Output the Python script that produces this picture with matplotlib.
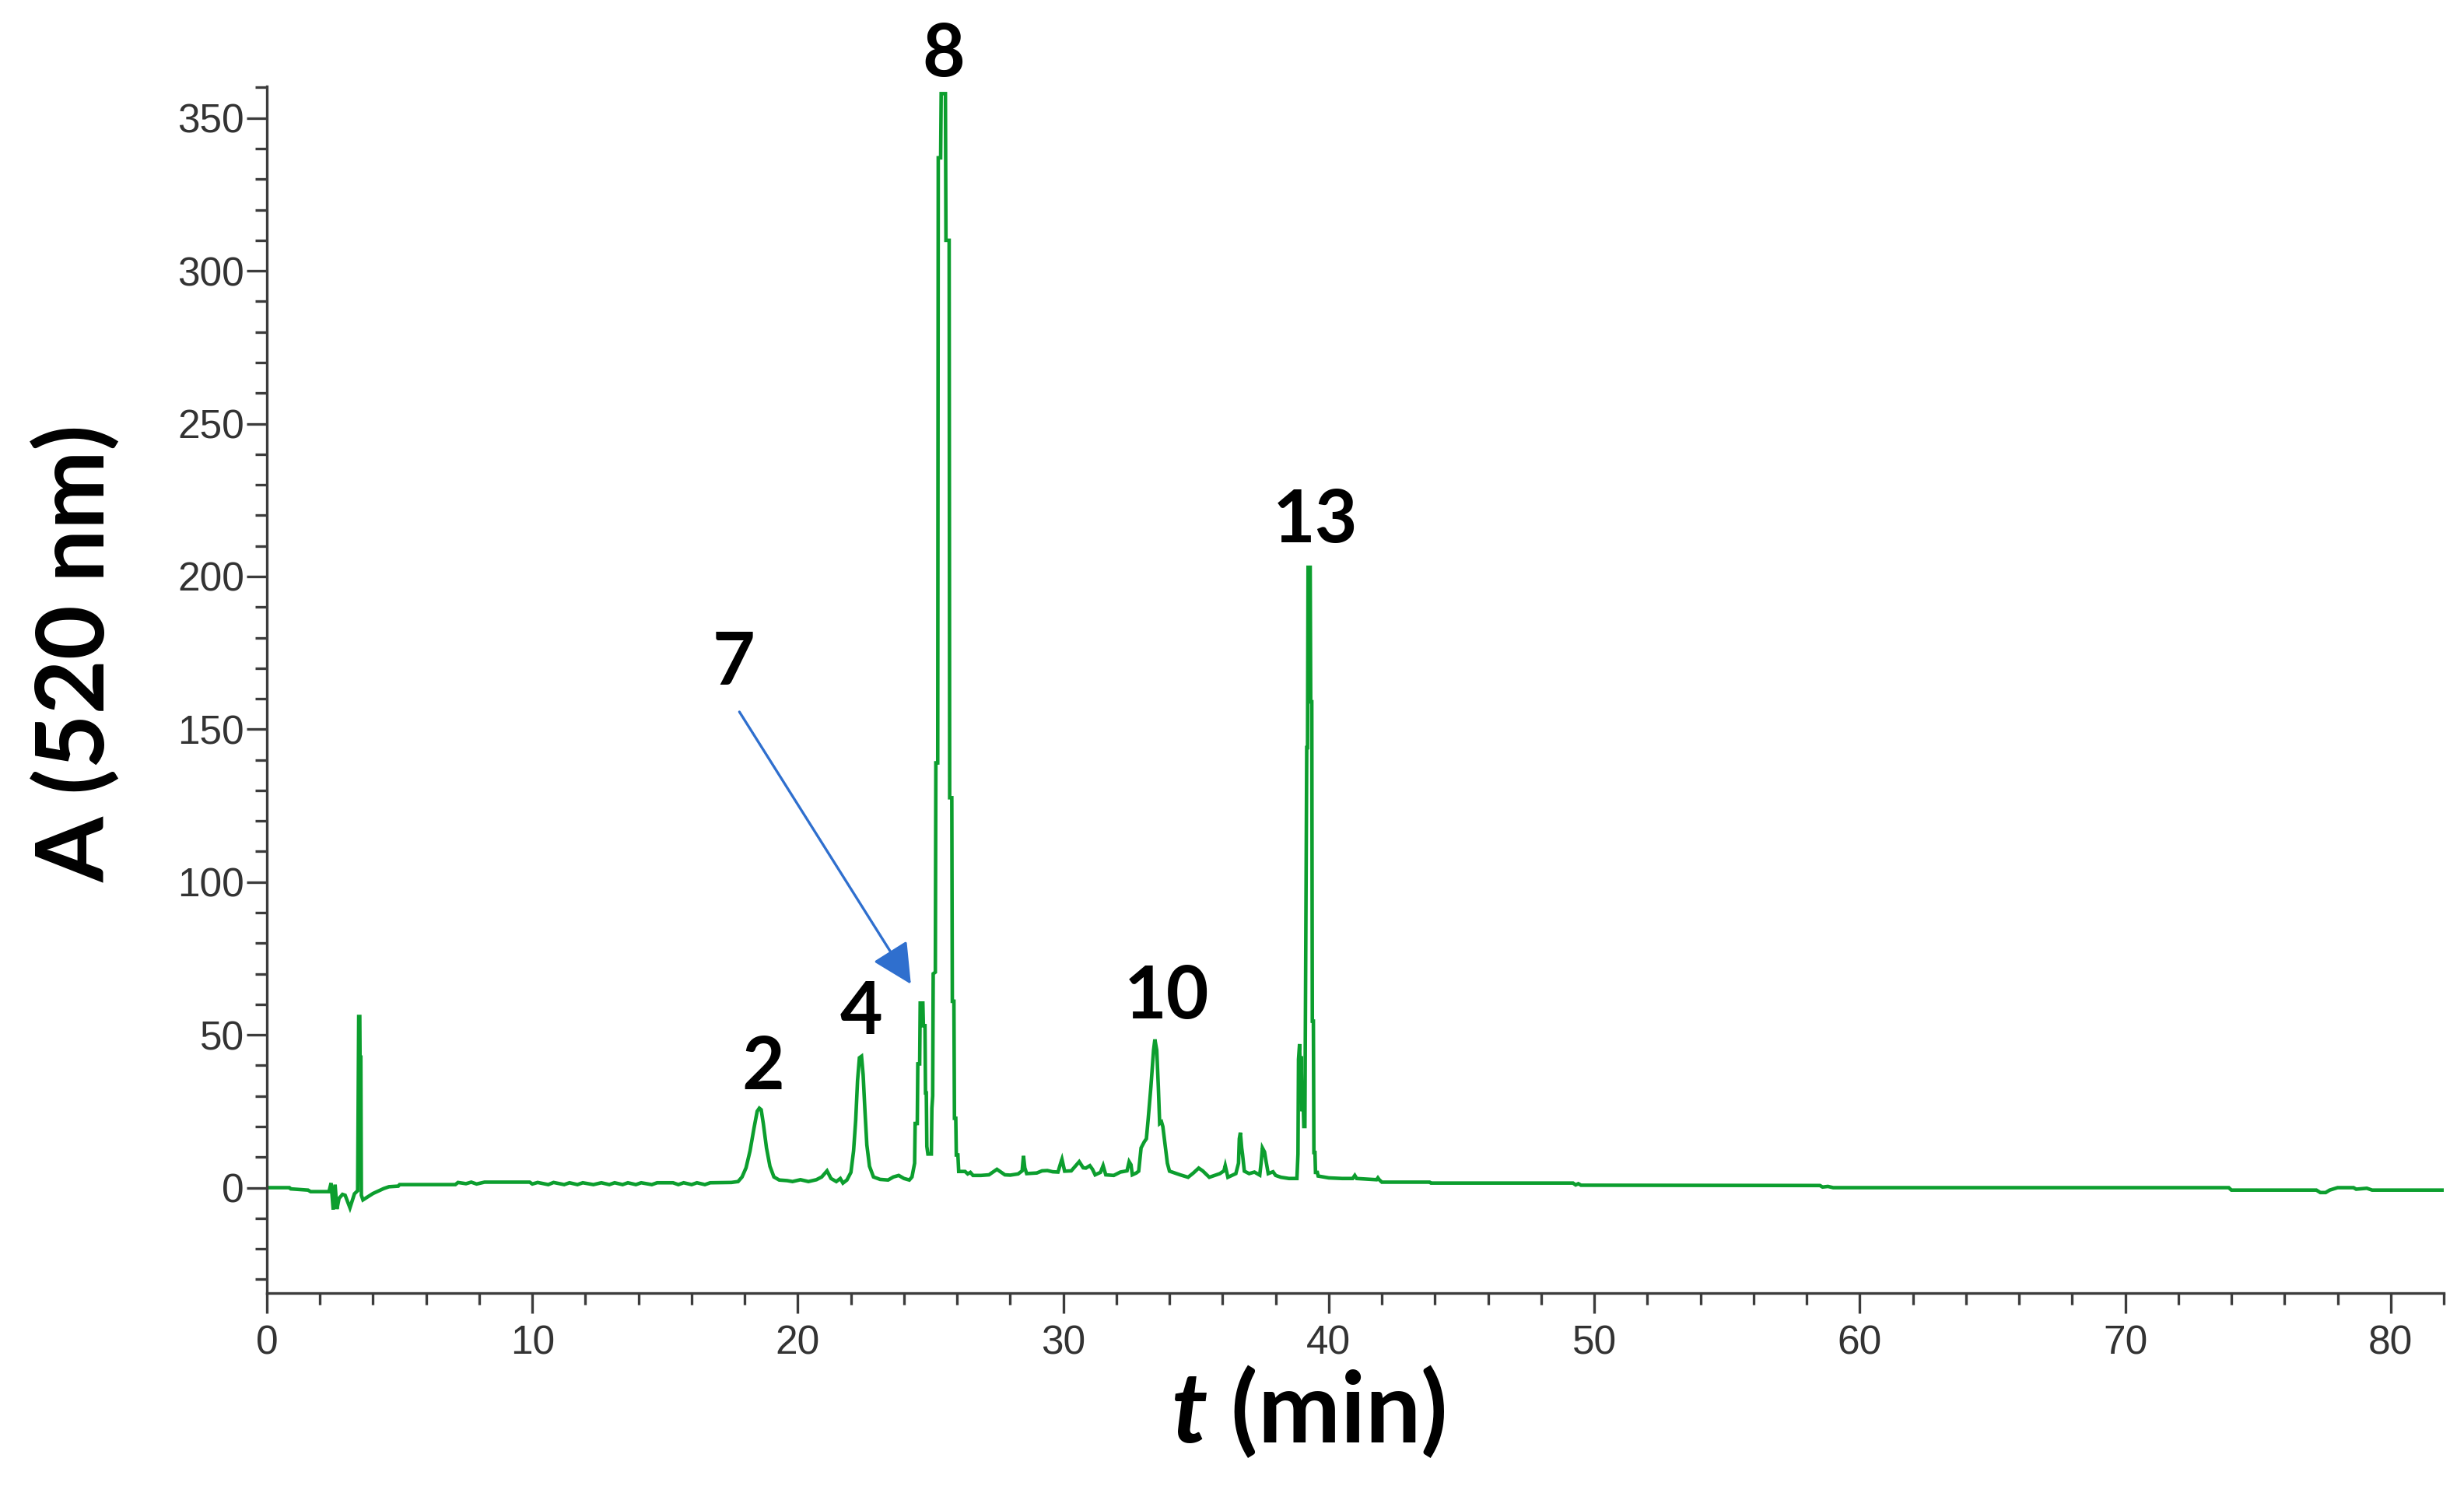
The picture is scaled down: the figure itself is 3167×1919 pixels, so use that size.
import numpy as np
import matplotlib
matplotlib.use("Agg")
import matplotlib.pyplot as plt
import matplotlib.ticker as ticker

# chromatogram: time (min) and absorbance at 520 nm
t_min = [0, 0.85, 0.9, 1.55, 1.65, 2.34, 2.42, 2.5, 2.57, 2.64, 2.72, 2.85, 2.95, 3.13, 3.3, 3.42,
         3.46, 3.5, 3.51, 3.54, 3.56, 3.62, 3.8, 4.0, 4.4, 4.6, 4.95, 5.0, 7.1, 7.2, 7.5, 7.7, 7.9,
         8.2, 8.6, 9.0, 9.5, 9.9, 10.0, 10.2, 10.6, 10.8, 11.2, 11.4, 11.7, 11.9, 12.3, 12.6, 12.9,
         13.1, 13.4, 13.6, 13.9, 14.1, 14.5, 14.7, 15.3, 15.5, 15.7, 16.0, 16.2, 16.5, 16.7, 17.5,
         17.75, 17.9, 18.05, 18.2, 18.35, 18.47, 18.55, 18.62, 18.7, 18.82, 18.95, 19.1, 19.3, 19.6,
         19.8, 20.1, 20.4, 20.7, 20.9, 21.1, 21.25, 21.45, 21.6, 21.7, 21.85,
         22.0, 22.1, 22.18, 22.25, 22.32, 22.4, 22.46, 22.53, 22.6, 22.7, 22.85, 23.1, 23.4, 23.6,
         23.8, 24.0, 24.2, 24.3,
         24.4, 24.42, 24.5, 24.52, 24.59, 24.61, 24.71, 24.73, 24.79, 24.81, 24.84, 24.86, 24.9,
         25.03, 25.05, 25.08, 25.1, 25.18, 25.2, 25.27, 25.29, 25.38, 25.4, 25.56, 25.58, 25.7,
         25.72, 25.8, 25.82, 25.88, 25.9, 25.95, 25.97, 26.03, 26.06,
         26.3, 26.4, 26.5, 26.6, 26.9, 27.2, 27.5, 27.8, 28.0, 28.3,
         28.45, 28.5, 28.55, 28.62, 29.0, 29.2, 29.4, 29.6, 29.8, 29.9, 29.95, 30.05, 30.3, 30.45,
         30.6, 30.75, 30.85, 31.0, 31.1, 31.2, 31.4, 31.5, 31.6, 31.9, 32.15, 32.4, 32.48, 32.55,
         32.6, 32.75, 32.84, 32.93, 33.05, 33.13, 33.2, 33.3, 33.4, 33.45, 33.52, 33.58, 33.63,
         33.7, 33.75, 33.85, 33.92, 34.0, 34.4, 34.7, 34.9, 35.1, 35.25, 35.5, 35.9, 36.05, 36.1,
         36.2, 36.5, 36.6, 36.63, 36.67, 36.72, 36.75, 36.82, 37.0, 37.2, 37.4, 37.45, 37.5, 37.58,
         37.63, 37.72, 37.9, 38.0, 38.2, 38.5, 38.78,
         38.8, 38.84, 38.86, 38.9, 38.93, 38.96, 38.99, 39.03, 39.06, 39.1, 39.12, 39.17, 39.2,
         39.22, 39.3, 39.32, 39.36, 39.38, 39.42, 39.44, 39.48, 39.5, 39.57, 39.6,
         40.0, 40.5, 40.9, 40.98, 41.05, 41.8, 41.85, 41.9, 42.0, 43.8, 43.85, 49.2, 49.3, 49.4,
         49.5, 58.5, 58.6, 58.8, 59.0, 73.9, 74.0, 77.2, 77.35, 77.55, 77.7, 78.0, 78.6, 78.7,
         79.1, 79.3, 82.3]
absorb = [0, 0, -0.4, -0.8, -1.3, -1.3, 1.5, -7.2, 1.0, -7.0, -3.5, -2.2, -2.5, -6.6, -2.0, -1.0,
          56.0, 56.0, 42.7, 42.7, -2.5, -4.0, -3.0, -1.9, -0.3, 0.3, 0.5, 1.0, 1.0, 1.7, 1.3, 1.8, 1.2,
          1.8, 1.8, 1.8, 1.8, 1.8, 1.2, 1.7, 1.0, 1.7, 1.0, 1.6, 1.0, 1.6, 1.0, 1.6, 1.0,
          1.6, 1.0, 1.6, 1.0, 1.6, 1.0, 1.6, 1.6, 1.0, 1.6, 1.0, 1.6, 1.0, 1.6, 1.7,
          2.0, 3.5, 6.5, 12, 19.5, 25, 26, 25.5, 21, 13, 7, 3.5, 2.5, 2.3,
          2.0, 2.6, 2.0, 2.6, 3.5, 5.5, 3.0, 2.0, 3.0, 1.5, 2.5,
          5, 12, 22, 35, 42.5, 43, 37, 25, 14, 7, 3.5, 2.7, 2.5, 3.5,
          4.0, 3.0, 2.5, 3.5,
          8, 21, 21, 40.5, 40.5, 60.4, 60.4, 53, 53, 31, 31, 13.5, 11,
          11, 26, 30, 70, 70.5, 139, 139, 337, 337, 358, 358, 310, 310,
          127.6, 127.6, 61, 61, 22.7, 22.7, 10.7, 10.7, 5.3,
          5.3, 4.5, 5.0, 4.0, 4.0, 4.2, 6.0, 4.2, 4.1, 4.5,
          5.5, 10.4, 6.5, 4.6, 4.8, 5.5, 5.6, 5.2, 5.1, 8.0, 9.3, 5.4, 5.5, 7.0,
          8.5, 6.5, 6.4, 7.2, 6.0, 4.2, 5.0, 7.2, 4.2, 4.0, 5.1, 5.5, 8.5, 7.5,
          4.2, 4.8, 5.4, 13, 15, 16, 22.7, 33, 45, 48.5, 45, 33, 21,
          21.5, 20, 13, 8, 5.4, 4.2, 3.4, 4.8, 6.4, 5.5, 3.4, 4.6, 5.5, 7.2,
          3.4, 4.6, 8, 16, 18, 13, 11, 5.4, 4.6, 5.1, 4.1, 8, 13, 11.7,
          9, 4.6, 5.2, 4.0, 3.4, 3.0, 3.0,
          3.0, 11, 42, 47, 36, 43, 25, 30, 20, 20, 54, 144, 144,
          203, 203, 159, 159, 54.5, 54.5, 11.5, 11.5, 5, 5, 3.8,
          3.2, 3.0, 3.0, 4.0, 3.0, 2.6, 3.2, 2.6, 1.8, 1.8, 1.5, 1.5, 0.9, 1.3,
          0.8, 0.7, 0.2, 0.4, 0.0, 0.0, -0.8, -0.8, -1.6, -1.6, -0.8, 0.0, 0.0, -0.5,
          -0.2, -0.8, -0.8]

peak_names = ["2", "4", "7", "8", "10", "13"]

plt.rcParams["font.family"] = ["Liberation Sans Narrow", "Liberation Sans", "DejaVu Sans"]
plt.rcParams["mathtext.fontset"] = "custom"
plt.rcParams["mathtext.bfit"] = "Lato:italic:bold"

fig = plt.figure(figsize=(31.67, 19.19), dpi=100)
ax = fig.add_axes([0.1083, 0.1339, 0.8835, 0.8083])

ax.plot(t_min, absorb, color="#0c9e2e", lw=3.3, solid_joinstyle="miter")

ax.set_xlim(0, 82.0)
ax.set_ylim(-34.5, 360.4)
ax.xaxis.set_major_locator(ticker.MultipleLocator(10))
ax.xaxis.set_minor_locator(ticker.MultipleLocator(2))
ax.yaxis.set_major_locator(ticker.MultipleLocator(50))
ax.yaxis.set_minor_locator(ticker.MultipleLocator(10))

for s in ["top", "right"]:
    ax.spines[s].set_visible(False)
for s in ["left", "bottom"]:
    ax.spines[s].set_color("#3c3c3c")
    ax.spines[s].set_linewidth(2.4)
ax.tick_params(which="both", direction="out", color="#3c3c3c", width=2.4,
               labelsize=37, labelcolor="#333333")
ax.tick_params(which="major", length=19)
ax.tick_params(which="minor", length=11)
ax.tick_params(axis="y", pad=2)
ax.tick_params(axis="x", pad=10)

lab = dict(family="Lato", fontweight="bold", color="black")
# peak numbers
lx = [18.7, 22.4, 17.6, 25.5, 33.9, 39.5]
ly = [32.2, 50.3, 164.6, 363.7, 55.4, 211.2]
for name, x, y in zip(peak_names, lx, ly):
    ax.text(x, y, name, ha="center", va="baseline", fontsize=68, clip_on=False, **lab)

ax.annotate("", xy=(24.26, 66.6), xytext=(17.8, 155.7),
            arrowprops=dict(arrowstyle="-|>,head_length=0.8,head_width=0.4",
                            color="#2f6fce", lw=2.4, mutation_scale=40,
                            shrinkA=0, shrinkB=0))

fig.text(0.031, 0.5623, "A (520 nm)", rotation=90, ha="center", va="center",
         fontsize=87, **lab)
fig.text(0.531, 0.0547, r"$\mathbfit{t}$ (min)", ha="center", va="center",
         fontsize=91, **lab)

fig.savefig("out.png", dpi=100)
